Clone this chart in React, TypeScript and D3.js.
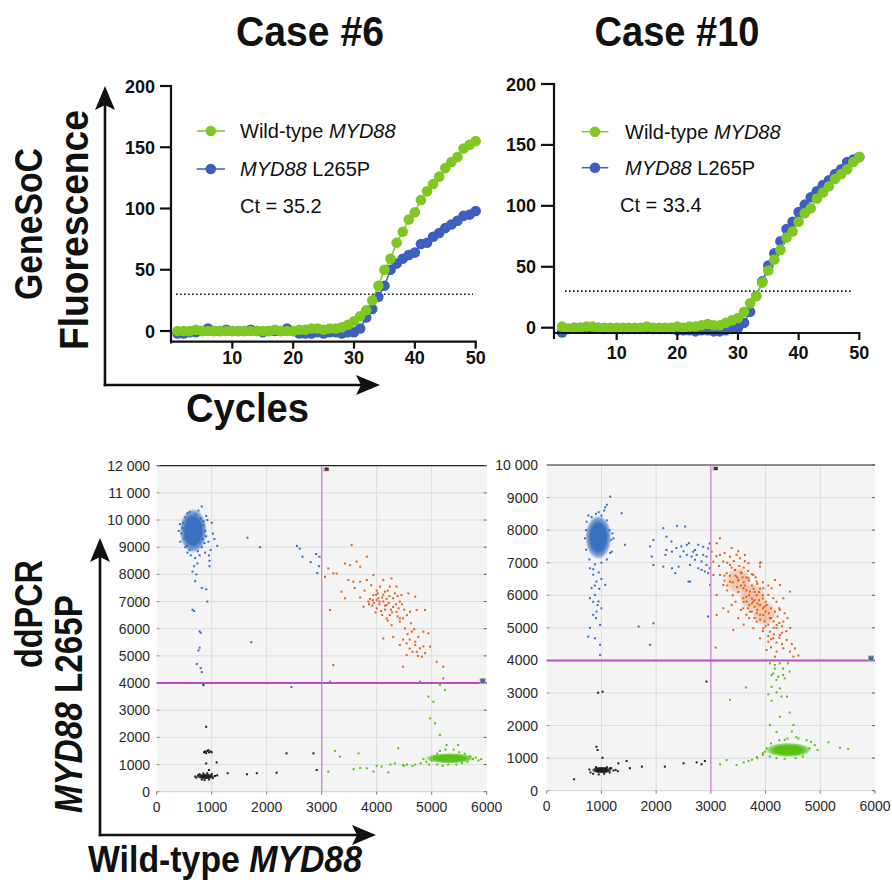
import React from "react";
import * as d3 from "d3";

// ---------------- qPCR data ----------------
const CYCLES = [1,2,3,4,5,6,7,8,9,10,11,12,13,14,15,16,17,18,19,20,21,22,23,24,25,26,27,28,29,30,31,32,33,34,35,36,37,38,39,40,41,42,43,44,45,46,47,48,49,50];
const CASE6_WT = [0,0,0,1,0,0,0,0,0,0, 0,0,0,0,0,0,1,0,0,0, 1,1,2,2,1,2,2,3,5,8, 12,17,25,37,50,59,72,81,91,97, 107,114,120,126,133,138,142,149,152,155];
const CASE6_MUT = [-2,-2,-1,-1,0,2,0,0,1,0, 0,0,1,0,-1,0,0,0,2,0, -2,-2,-2,-1,-2,-1,-1,-2,-1,-1, 2,11,18,28,37,50,55,59,62,64, 71,72,77,80,84,87,90,94,95,98];
const CASE10_WT = [1,-1,0,0,1,1,0,0,0,0, 0,0,0,0,1,0,0,0,0,1, 0,1,1,2,3,2,2,4,6,8, 13,20,26,37,47,56,64,74,79,87, 94,98,106,111,116,122,126,130,136,140];
const CASE10_MUT = [-4,-1,0,0,0,0,0,-1,-1,-1, -1,-1,-1,-1,-1,-1,-1,-1,-1,-2, -2,-2,-3,-2,-2,-3,-3,-2,-1,0, 4,13,26,38,51,61,71,81,87,95, 101,107,112,117,121,126,130,136,138,140];
const QPCR_Y_TICKS = [0, 50, 100, 150, 200];
const QPCR_X_TICKS = [10, 20, 30, 40, 50];
const THRESHOLD = 30;
const TITLES = ["Case #6", "Case #10"];
const CT_LABELS = ["Ct = 35.2", "Ct = 33.4"];

// ---------------- ddPCR data ----------------
type P = [number, number];
const DD_X_TICKS = [0, 1000, 2000, 3000, 4000, 5000, 6000];
const DD6_Y_TICKS = [0, 1000, 2000, 3000, 4000, 5000, 6000, 7000, 8000, 9000, 10000, 11000, 12000];
const DD10_Y_TICKS = [0, 1000, 2000, 3000, 4000, 5000, 6000, 7000, 8000, 9000, 10000];
const DD_X_THRESH = 3000;
const DD_Y_THRESH = 4000;

// dense cluster cores: [cx, cy, rx, ry] in data units
const C6_BLUE_CORE: number[][] = [[665, 9600, 250, 820]];
const C6_BLACK_CORE: number[][] = [[890, 560, 170, 105]];
const C6_GREEN_CORE: number[][] = [[5330, 1230, 450, 190]];
const C6_ORANGE_CORE: number[][] = [];
const C10_BLUE_CORE: number[][] = [[944, 7780, 240, 680]];
const C10_BLACK_CORE: number[][] = [[1005, 635, 190, 110]];
const C10_GREEN_CORE: number[][] = [[4415, 1250, 420, 220]];
const C10_ORANGE_CORE: number[][] = [[3500, 6450, 230, 420], [3760, 5950, 240, 430], [3980, 5450, 220, 380]];

const C6_BLUE: P[] = [[480,9900],[500,9300],[520,10100],[560,10250],[600,10300],[700,10200],[760,10350],[820,10500],[800,10050],[850,9800],[880,9600],[900,9400],[870,9150],[820,9000],[880,8800],[950,8700],[960,8500],[960,8300],[780,8700],[700,8600],[620,8700],[560,8800],[520,9000],[450,9500],[470,9700],[740,8400],[680,8300],[650,8100],[720,8000],[700,7750],[820,7500],[900,7450],[920,7000],[650,6700],[680,6650],[780,5900],[800,5850],[760,5200],[780,5300],[730,4700],[800,4550],[820,4400],[1050,9300],[1100,9050],[920,10000],[940,9200],[1000,9900],[900,10150],[400,9600],[430,9200],[980,8900],[1020,9500],[600,8900],[550,9050],[750,8850],[830,9300],[850,9950],[420,9850],[580,10050],[1650,9350],[1880,9000],[2550,9050],[2600,8950],[2650,8650],[2800,8450],[2900,8750],[2960,8650],[2950,8300],[2920,8050],[1720,5500],[2450,3850]];
const C6_ORANGE: P[] = [[3545,9080],[3424,8400],[3515,8340],[3636,8470],[3820,8650],[3700,8280],[3120,8220],[3210,8040],[3270,8030],[3060,7910],[3360,7360],[3485,7790],[3575,7730],[3700,7730],[3820,7790],[3940,7970],[4120,7790],[4270,7850],[4060,7550],[4150,7360],[4240,7550],[4360,7550],[4450,7240],[3940,7240],[4030,7120],[4120,7000],[4180,6870],[4300,7120],[4420,7000],[4575,7300],[4700,7180],[4240,6500],[4360,6620],[4420,6380],[4480,6380],[4606,6626],[4727,6690],[4878,6690],[4180,6380],[4270,6130],[4420,6260],[4515,6010],[4640,5890],[4757,5700],[4850,5890],[4940,5830],[4300,5700],[4420,5400],[4545,5460],[4600,5270],[4700,5520],[4787,5280],[4970,5340],[4545,5030],[4727,5150],[4820,4970],[5090,4785],[5210,4600],[4480,4600],[4120,5640],[3424,7120],[3760,6810],[3850,7000],[3150,6690],[3210,4660],[3150,4050],[4787,4050],[5210,4170],[3880,7100],[3950,6950],[4000,7050],[4050,6900],[3920,6850],[4100,7150],[4180,7100],[4220,6950],[4000,6750],[4080,6650],[4150,6700],[3860,6900],[3990,7250],[4300,6800],[4350,6900],[4260,6700],[4400,6750],[4330,7300],[4460,6900],[4500,6700],[3780,7400],[3700,7150],[3600,7500],[3900,7600],[4000,7400],[4120,7250],[4200,7400],[4380,7200],[4550,6500],[4620,6200],[4680,5980],[4560,5800],[4480,5600],[4600,5600],[4700,5400],[4650,5150],[4750,5000],[4880,5100],[4850,5350],[4050,7000],[4150,6850],[3980,6600],[4230,7200],[4100,6500],[3930,7050],[4280,6600],[4380,6450],[4020,7300],[4200,6300]];
const C6_GREEN: P[] = [[4800,1050],[4900,1100],[4950,1000],[5000,1150],[4850,1200],[5100,1400],[5150,1500],[5250,1550],[5400,1550],[5500,1450],[5600,1400],[5700,1300],[5750,1200],[5650,1100],[5550,1050],[5450,1000],[5300,1000],[5200,950],[5100,1000],[5800,1250],[5900,1200],[4700,1000],[4650,950],[4500,950],[4550,1000],[5050,1300],[5850,1150],[3240,1500],[3330,1290],[3670,1410],[4390,1600],[3120,740],[3580,830],[3820,860],[3940,740],[4090,920],[4210,710],[4330,1040],[4480,980],[5150,3930],[5240,3740],[4940,3500],[5030,3310],[4970,2700],[5060,2520],[5150,2090],[5270,1720],[5480,1720],[4250,1000],[4000,950],[3700,880]];
const C6_BLACK: P[] = [[720,520],[750,600],[780,650],[820,450],[870,430],[950,450],[1020,500],[1060,580],[1000,650],[920,680],[850,670],[1100,600],[700,560],[880,1480],[920,1500],[950,1450],[980,1480],[900,1420],[1000,1450],[940,1530],[860,1450],[900,1040],[1090,1080],[1290,680],[1640,640],[1820,680],[2180,700],[2360,1410],[2850,1410],[2910,800],[900,2390],[850,3930],[950,800]];

const C10_BLUE: P[] = [[730,8260],[760,8450],[820,8400],[900,8500],[1000,8450],[1100,8300],[1150,8000],[1180,7700],[1160,7300],[1100,7100],[1000,7000],[880,6950],[780,7100],[720,7400],[700,7750],[720,8000],[1200,7900],[1050,8600],[950,8550],[790,6830],[850,6630],[910,6420],[820,6220],[880,6010],[945,5810],[790,5910],[910,5500],[850,5400],[900,5300],[975,5090],[790,5000],[880,4680],[975,4480],[975,4170],[760,4730],[850,6800],[950,6700],[1000,6500],[880,6300],[960,6200],[850,5800],[930,5700],[1000,5600],[1160,9030],[1100,8780],[1070,8700],[1370,8520],[1220,7750],[1430,7550],[1190,7340],[1070,6320],[2130,8060],[2380,8130],[2530,8110],[1950,7700],[2190,7800],[2280,7650],[2370,7450],[2460,7500],[2560,7550],[2680,7340],[2770,7550],[2860,7240],[2950,7440],[2920,7190],[2650,7190],[2740,7240],[2830,7040],[2920,6930],[2830,6780],[2890,6730],[2980,6830],[2350,6680],[2410,6880],[2290,6830],[2170,7240],[2130,6880],[1950,6930],[2620,6420],[2590,6420],[2290,7340],[2440,7190],[2560,7240],[2710,7390],[2860,7490],[2980,7590],[2190,7390],[1890,7500],[1920,7190],[2710,7090],[2620,6930],[2770,6830],[2950,6680],[1950,5140],[1890,4480],[1680,5040],[2950,5350],[2500,7350],[2600,7600]];
const C10_ORANGE: P[] = [[3167,7752],[3106,7598],[3015,7342],[3045,7035],[3167,7240],[3228,7035],[3350,6932],[3471,7240],[3624,7240],[3441,6779],[3563,6676],[3289,6676],[3167,6625],[3228,6318],[3106,6011],[3350,6420],[3502,6472],[3685,6523],[3776,6625],[3898,6984],[3837,6420],[3593,6216],[3715,6113],[3837,6011],[3959,6216],[4050,6011],[4111,6216],[4141,5908],[4019,5704],[3898,5704],[3776,5806],[3654,5806],[3593,5601],[3715,5499],[3837,5448],[3959,5396],[4080,5294],[4172,5499],[4263,5550],[4324,5192],[4202,5089],[4080,4884],[3959,4987],[3837,5192],[3776,4987],[3410,4936],[3593,5908],[3228,5601],[3319,5499],[3106,5396],[4050,4577],[4141,4680],[4263,4782],[4385,4628],[4324,4372],[4202,4270],[4446,4270],[4537,4372],[4507,4116],[4172,4116],[4019,4321],[3898,4680],[4446,6113],[4324,5908],[4263,6318],[4172,6472],[3898,6881],[3685,6984],[3350,7188],[3532,7137],[3045,6625],[2984,6318],[3088,4393],[3910,7014],[3450,6600],[3500,6450],[3550,6300],[3600,6400],[3650,6150],[3700,6000],[3750,5900],[3800,5850],[3850,5750],[3700,5700],[3650,5950],[3800,6100],[3900,6200],[3550,6700],[3400,6400],[3350,6600],[3950,5600],[4000,5500],[3900,5400],[4100,5300],[4050,5100],[3850,5550],[3750,5500],[3600,5800],[3950,6000],[3500,6100],[3300,6300],[3250,6600],[3650,6550],[3750,6300],[3800,5650],[4000,5800],[4200,5000],[4150,4800],[4250,4700],[4100,4650],[4300,4850],[3950,4900],[4100,5600],[3850,6350],[3300,7000],[3380,6850],[3420,7050],[3520,6900],[3600,6850],[3680,6750],[3480,6550],[3580,6550],[3620,6300],[3700,6450],[3780,6200],[3880,6100],[3950,5900],[3680,5600],[3750,5750],[3880,5850],[3980,5650],[4060,5450],[3900,5250],[3980,5200],[4150,5200],[4220,5350],[4250,5150],[4150,5000],[4300,5050],[4050,4750],[4000,5050],[3700,5300],[3800,5300],[3650,5400],[3550,5550],[3450,5800],[3400,6000],[3480,6250],[3300,6150],[3380,5700],[3250,6450],[3150,6900],[3100,7200],[3250,7300],[3380,7450],[3500,7350],[3620,7050],[3750,6650],[3820,6550],[3950,6400],[4050,6300],[4200,5800],[4250,5600],[4350,5450],[4400,5300],[4450,5000],[4380,4900],[4480,4500],[4300,4500],[4200,4550],[4100,4400],[4600,4150],[3600,5100],[3500,5300]];
const C10_GREEN: P[] = [[4020,1300],[3990,1200],[4080,1050],[4200,1000],[4680,1050],[4800,1300],[4900,1400],[4830,1500],[4750,1550],[4600,1600],[4400,1600],[4250,1550],[4100,1450],[4950,1250],[4550,1000],[4350,980],[3950,1100],[3850,1000],[3750,950],[5150,1490],[5360,1320],[5510,1280],[3350,2790],[3640,3170],[3290,940],[3470,790],[3690,910],[3840,1040],[3170,810],[3600,870],[3950,1150],[4080,3910],[4170,3860],[4260,3910],[4320,3750],[4410,3910],[4140,3600],[4230,3500],[4320,3550],[4200,3400],[4110,3550],[4050,2960],[4200,3020],[4290,2890],[4390,2890],[4110,2760],[4260,2270],[4080,2020],[4510,2020],[4480,1820],[4350,1560],[4560,1640],[4440,3660],[4260,3140],[4110,3190],[4170,3750],[4350,3450],[4440,2400],[4200,1800]];
const C10_BLACK: P[] = [[800,560],[850,520],[900,720],[1100,720],[1150,560],[1220,620],[1180,690],[950,500],[1050,520],[780,650],[1260,640],[1300,600],[500,350],[910,1350],[930,1250],[1020,1010],[940,3010],[1020,3040],[2920,3350],[1310,840],[1460,910],[1520,690],[1740,740],[2160,740],[2500,840],[2740,870],[2830,810],[2890,910],[1160,690]];

// ---------------- styles ----------------
const FONT = "'Liberation Sans', Arial, Helvetica, sans-serif";
const QGREEN = "#7fc822";
const QBLUE = "#3e5ec0";
const DBLUE = "#3a70c0";
const DORANGE = "#e2611c";
const DGREEN = "#56c214";
const DBLACK = "#1e1e1e";

const fmtDD = (v: number) => (v >= 10000 ? d3.format(",")(v).replace(",", " ") : String(v));

function Arrow({ x0, y0, x1, y1 }: { x0: number; y0: number; x1: number; y1: number }) {
  const ang = Math.atan2(y1 - y0, x1 - x0);
  const L = 24, Wd = 10, N = 19;
  const bx = x1 - L * Math.cos(ang), by = y1 - L * Math.sin(ang);
  const nx = x1 - N * Math.cos(ang), ny = y1 - N * Math.sin(ang);
  const px = -Math.sin(ang), py = Math.cos(ang);
  const pts = [[x1, y1], [bx + px * Wd, by + py * Wd], [nx, ny], [bx - px * Wd, by - py * Wd]];
  return (
    <g>
      <line x1={x0} y1={y0} x2={nx} y2={ny} stroke="#111" strokeWidth={2.6} />
      <polygon points={pts.map((p) => p.join(",")).join(" ")} fill="#111" />
    </g>
  );
}

type QProps = {
  xr: [number, number]; yr: [number, number]; yAxisX: number; xAxisY: number; yAxisBottom: number;
  wt: number[]; mut: number[]; leg: { lx0: number; lx1: number; cx: number; g: number; b: number; tx: number; gb: number; bb: number; ctx: number; ctb: number };
  ct: string; thr: [number, number]; xLabBase: number; tickL: number;
};

function QPCR(p: QProps) {
  const x = d3.scaleLinear().domain([0, 50]).range(p.xr);
  const y = d3.scaleLinear().domain([0, 200]).range(p.yr);
  const line = d3.line<number>().x((_, i) => x(CYCLES[i])).y((d) => y(d));
  const series = [
    { d: p.mut, c: QBLUE },
    { d: p.wt, c: QGREEN },
  ];
  return (
    <g fontFamily={FONT}>
      <line x1={p.thr[0]} x2={p.thr[1]} y1={y(THRESHOLD)} y2={y(THRESHOLD)} stroke="#111" strokeWidth={1.6} strokeDasharray="1.6 2.4" />
      {series.map((s, k) => (
        <g key={k}>
          <path d={line(s.d) || ""} fill="none" stroke={s.c} strokeWidth={1.5} />
          {s.d.map((v, i) => (
            <circle key={i} cx={x(CYCLES[i])} cy={y(v)} r={5.3} fill={s.c} />
          ))}
        </g>
      ))}
      <line x1={p.yAxisX} x2={p.yAxisX} y1={y(200) - 1} y2={p.yAxisBottom} stroke="#111" strokeWidth={2.2} />
      <line x1={p.yAxisX} x2={x(50) + 1} y1={p.xAxisY} y2={p.xAxisY} stroke="#111" strokeWidth={2.2} />
      {QPCR_Y_TICKS.map((t) => (
        <g key={t}>
          <line x1={p.yAxisX - p.tickL} x2={p.yAxisX} y1={y(t)} y2={y(t)} stroke="#111" strokeWidth={2.2} />
          <text x={p.yAxisX - p.tickL - 5} y={y(t) + 6.5} textAnchor="end" fontSize={18} fontWeight="bold" fill="#111">{t}</text>
        </g>
      ))}
      {QPCR_X_TICKS.map((t) => (
        <g key={t}>
          <line x1={x(t)} x2={x(t)} y1={p.xAxisY} y2={p.xAxisY + 7} stroke="#111" strokeWidth={2.2} />
          <text x={x(t)} y={p.xLabBase} textAnchor="middle" fontSize={18} fontWeight="bold" fill="#111">{t}</text>
        </g>
      ))}
      <line x1={p.leg.lx0} x2={p.leg.lx1} y1={p.leg.g} y2={p.leg.g} stroke={QGREEN} strokeWidth={1.5} />
      <circle cx={p.leg.cx} cy={p.leg.g} r={5.3} fill={QGREEN} />
      <line x1={p.leg.lx0} x2={p.leg.lx1} y1={p.leg.b} y2={p.leg.b} stroke={QBLUE} strokeWidth={1.5} />
      <circle cx={p.leg.cx} cy={p.leg.b} r={5.3} fill={QBLUE} />
      <text x={p.leg.tx} y={p.leg.gb} fontSize={20} fill="#111">
        Wild-type <tspan fontStyle="italic">MYD88</tspan>
      </text>
      <text x={p.leg.tx} y={p.leg.bb} fontSize={20} fill="#111">
        <tspan fontStyle="italic">MYD88</tspan> L265P
      </text>
      <text x={p.leg.ctx} y={p.leg.ctb} fontSize={20} fill="#111">{p.ct}</text>
    </g>
  );
}

type DProps = {
  xr: [number, number]; yr: [number, number]; yTicks: number[]; labRight: number;
  layers: { pts: P[]; cores: number[][]; color: string; grad: string; op: number }[];
};

function Droplets(p: DProps) {
  const yMax = p.yTicks[p.yTicks.length - 1];
  const x = d3.scaleLinear().domain([0, 6000]).range(p.xr);
  const y = d3.scaleLinear().domain([0, yMax]).range(p.yr);
  const [L, R] = p.xr;
  const [B, T] = p.yr;
  return (
    <g fontFamily={FONT}>
      <rect x={L} y={T} width={R - L} height={B - T} fill="#f4f4f4" />
      {p.yTicks.slice(1, -1).map((t) => (
        <line key={"h" + t} x1={L} x2={R} y1={y(t)} y2={y(t)} stroke="#dcdcdc" strokeWidth={1} />
      ))}
      {DD_X_TICKS.slice(1, -1).filter((t) => t !== DD_X_THRESH).map((t) => (
        <line key={"v" + t} x1={x(t)} x2={x(t)} y1={T} y2={B} stroke="#dcdcdc" strokeWidth={1} />
      ))}
      <line x1={L} x2={R} y1={B} y2={B} stroke="#cfcfcf" strokeWidth={1} />
      <line x1={L} x2={R} y1={T} y2={T} stroke="#222" strokeWidth={1.2} />
      {p.yTicks.map((t) => (
        <g key={"yt" + t}>
          <line x1={R - 3} x2={R} y1={y(t)} y2={y(t)} stroke="#666" strokeWidth={1} />
          <line x1={L} x2={L + 3} y1={y(t)} y2={y(t)} stroke="#999" strokeWidth={1} />
          <text x={p.labRight} y={y(t) + 5} textAnchor="end" fontSize={14} fill="#2a2a2a">{fmtDD(t)}</text>
        </g>
      ))}
      {DD_X_TICKS.map((t) => (
        <g key={"xt" + t}>
          <line x1={x(t)} x2={x(t)} y1={B} y2={B + 3} stroke="#777" strokeWidth={1} />
          <text x={x(t)} y={B + 20} textAnchor="middle" fontSize={14} fill="#2a2a2a">{t}</text>
        </g>
      ))}
      {p.layers.map((ly, k) => (
        <g key={k}>
          {ly.cores.map(([cx, cy, rx, ry], i) => (
            <ellipse key={"c" + i} cx={x(cx)} cy={y(cy)} rx={x(cx + rx) - x(cx)} ry={y(cy) - y(cy + ry)} fill={`url(#${ly.grad})`} opacity={ly.op} />
          ))}
          {ly.pts.map(([a, b], i) => (
            <rect key={i} x={x(a) - 1} y={y(b) - 1} width={2} height={2} fill={ly.color} />
          ))}
        </g>
      ))}
      <line x1={x(DD_X_THRESH)} x2={x(DD_X_THRESH)} y1={T} y2={B} stroke="#cc80d8" strokeWidth={1.3} />
      <line x1={L} x2={R} y1={y(DD_Y_THRESH)} y2={y(DD_Y_THRESH)} stroke="#bb4cc6" strokeWidth={2} />
      <rect x={x(DD_X_THRESH) + 1} y={T + 1} width={6} height={5} fill="#ccc" />
      <rect x={x(DD_X_THRESH) + 3} y={T + 2} width={4} height={3} fill="#6a1e28" />
      <rect x={R - 7} y={y(DD_Y_THRESH) - 5} width={6} height={6} fill="#aaa" />
      <rect x={R - 6} y={y(DD_Y_THRESH) - 4} width={4} height={4} fill="#3e66a8" />
    </g>
  );
}

function Grad({ id, color }: { id: string; color: string }) {
  return (
    <radialGradient id={id}>
      <stop offset="0%" stopColor={color} stopOpacity={1} />
      <stop offset="60%" stopColor={color} stopOpacity={1} />
      <stop offset="85%" stopColor={color} stopOpacity={0.6} />
      <stop offset="100%" stopColor={color} stopOpacity={0} />
    </radialGradient>
  );
}

export default function App() {
  const big = { fontFamily: FONT, fontWeight: "bold" as const, fill: "#111" };
  return (
    <svg width={892} height={883} style={{ position: "absolute", left: 0, top: 0, background: "#fff" }}>
      <defs>
        <Grad id="gBlue" color={DBLUE} />
        <Grad id="gOrange" color={DORANGE} />
        <Grad id="gGreen" color={DGREEN} />
        <Grad id="gBlack" color={DBLACK} />
      </defs>
      <rect width={892} height={883} fill="#fff" />
      <text x={310} y={46} textAnchor="middle" fontSize={42} textLength={148} lengthAdjust="spacingAndGlyphs" {...big}>{TITLES[0]}</text>
      <text x={677} y={46} textAnchor="middle" fontSize={42} textLength={165} lengthAdjust="spacingAndGlyphs" {...big}>{TITLES[1]}</text>

      <text transform="translate(42,224) rotate(-90)" textAnchor="middle" fontSize={38} textLength={152} lengthAdjust="spacingAndGlyphs" {...big}>GeneSoC</text>
      <text transform="translate(88,230) rotate(-90)" textAnchor="middle" fontSize={41} textLength={240} lengthAdjust="spacingAndGlyphs" {...big}>Fluorescence</text>
      <text x={247.5} y={422} textAnchor="middle" fontSize={40} textLength={123} lengthAdjust="spacingAndGlyphs" {...big}>Cycles</text>
      <Arrow x0={105} y0={386.3} x1={105} y1={86} />
      <Arrow x0={103.7} y0={385} x1={380} y1={385} />

      <QPCR xr={[171.5, 475.7]} yr={[331, 86]} yAxisX={171} xAxisY={341.7} yAxisBottom={343.5}
        wt={CASE6_WT} mut={CASE6_MUT} ct={CT_LABELS[0]} thr={[176, 473]} xLabBase={364} tickL={11}
        leg={{ lx0: 196.7, lx1: 225, cx: 210.8, g: 131, b: 169, tx: 240, gb: 138, bb: 176, ctx: 240, ctb: 213 }} />
      <QPCR xr={[556, 859.3]} yr={[327.7, 84]} yAxisX={554} xAxisY={333} yAxisBottom={339}
        wt={CASE10_WT} mut={CASE10_MUT} ct={CT_LABELS[1]} thr={[565, 853]} xLabBase={359} tickL={13}
        leg={{ lx0: 581.7, lx1: 608.3, cx: 595, g: 131.7, b: 167.7, tx: 625, gb: 139, bb: 175, ctx: 620, ctb: 212 }} />

      <Droplets xr={[156.7, 486.7]} yr={[791.7, 465.7]} yTicks={DD6_Y_TICKS} labRight={150}
        layers={[
          { pts: C6_BLACK, cores: C6_BLACK_CORE, color: DBLACK, grad: "gBlack", op: 1 },
          { pts: C6_GREEN, cores: C6_GREEN_CORE, color: DGREEN, grad: "gGreen", op: 1 },
          { pts: C6_ORANGE, cores: C6_ORANGE_CORE, color: DORANGE, grad: "gOrange", op: 0.25 },
          { pts: C6_BLUE, cores: C6_BLUE_CORE, color: DBLUE, grad: "gBlue", op: 1 },
        ]} />
      <Droplets xr={[546.7, 875]} yr={[790.7, 465]} yTicks={DD10_Y_TICKS} labRight={538}
        layers={[
          { pts: C10_BLACK, cores: C10_BLACK_CORE, color: DBLACK, grad: "gBlack", op: 1 },
          { pts: C10_GREEN, cores: C10_GREEN_CORE, color: DGREEN, grad: "gGreen", op: 1 },
          { pts: C10_ORANGE, cores: C10_ORANGE_CORE, color: DORANGE, grad: "gOrange", op: 0.3 },
          { pts: C10_BLUE, cores: C10_BLUE_CORE, color: DBLUE, grad: "gBlue", op: 1 },
        ]} />

      <text transform="translate(42,614) rotate(-90)" textAnchor="middle" fontSize={38} textLength={108} lengthAdjust="spacingAndGlyphs" {...big}>ddPCR</text>
      <text transform="translate(82,704) rotate(-90)" textAnchor="middle" fontSize={38} textLength={218} lengthAdjust="spacingAndGlyphs" {...big}>
        <tspan fontStyle="italic">MYD88</tspan> L265P
      </text>
      <Arrow x0={100} y0={836.3} x1={100} y1={538} />
      <Arrow x0={98.7} y0={835} x1={376} y1={835} />
      <text x={225} y={872} textAnchor="middle" fontSize={36} textLength={274} lengthAdjust="spacingAndGlyphs" {...big}>
        Wild-type <tspan fontStyle="italic">MYD88</tspan>
      </text>
    </svg>
  );
}
